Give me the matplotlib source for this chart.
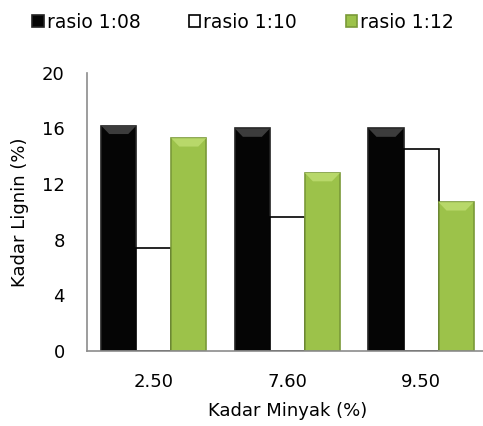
import numpy as np
import matplotlib
matplotlib.use("Agg")
import matplotlib.pyplot as plt
from matplotlib.patches import Patch, Polygon

categories = ["2.50", "7.60", "9.50"]
series_names = ["rasio 1:08", "rasio 1:10", "rasio 1:12"]
rasio_1_08 = [16.2, 16.0, 16.0]
rasio_1_10 = [7.4, 9.6, 14.5]
rasio_1_12 = [15.3, 12.8, 10.7]
y_ticks = [0, 4, 8, 12, 16, 20]

fills = ["#050505", "#ffffff", "#9cc24a"]
edges = ["#222222", "#000000", "#7a9a38"]
bevels = ["#3c3c3c", None, "#b8d86a"]

plt.rcParams["font.family"] = ["DejaVu Sans"]
fig = plt.figure(figsize=(4.83, 4.26), dpi=100)
ax = fig.add_axes([0.18, 0.176, 0.83, 0.653])

ax.set_xlim(-0.5, 2.5)
ax.set_ylim(0, 20)

x = np.arange(len(categories))
w = 0.262
# bevel depth in data units (about 9 px each way)
dx, dy = 0.06, 0.6
for i, (vals, fc, ec, bc) in enumerate(zip([rasio_1_08, rasio_1_10, rasio_1_12], fills, edges, bevels)):
    bars = ax.bar(x + (i - 1) * w, vals, width=w, color=fc, edgecolor=ec,
                  linewidth=1.2, zorder=2)
    if bc is None:
        continue
    for b in bars:
        x0, x1, h = b.get_x(), b.get_x() + b.get_width(), b.get_height()
        ax.add_patch(Polygon([(x0, h), (x1, h), (x1 - dx, h - dy), (x0 + dx, h - dy)],
                             closed=True, facecolor=bc, edgecolor="none", zorder=3))

ax.set_yticks(y_ticks)
ax.set_xticks(x)
ax.set_xticklabels(categories)
ax.tick_params(axis="both", length=0, labelsize=13, colors="#000000")
ax.tick_params(axis="y", pad=16)
ax.tick_params(axis="x", pad=16)
for s in ["top", "right"]:
    ax.spines[s].set_visible(False)
for s in ["left", "bottom"]:
    ax.spines[s].set_color("#8c8c8c")
    ax.spines[s].set_linewidth(1.2)

ax.set_xlabel("Kadar Minyak (%)", fontsize=13, labelpad=8)
ax.set_ylabel("Kadar Lignin (%)", fontsize=13, labelpad=9)

handles = [Patch(facecolor=fc, edgecolor=("#000000" if fc == "#ffffff" else ec), linewidth=1.2)
           for fc, ec in zip(fills, edges)]
fig.legend(handles, series_names, loc="center", bbox_to_anchor=(0.503, 0.948),
           ncol=3, frameon=False, fontsize=13.5, handlelength=0.6, handleheight=0.6,
           handletextpad=0.15, columnspacing=2.6)

fig.savefig("out.png", dpi=100)
